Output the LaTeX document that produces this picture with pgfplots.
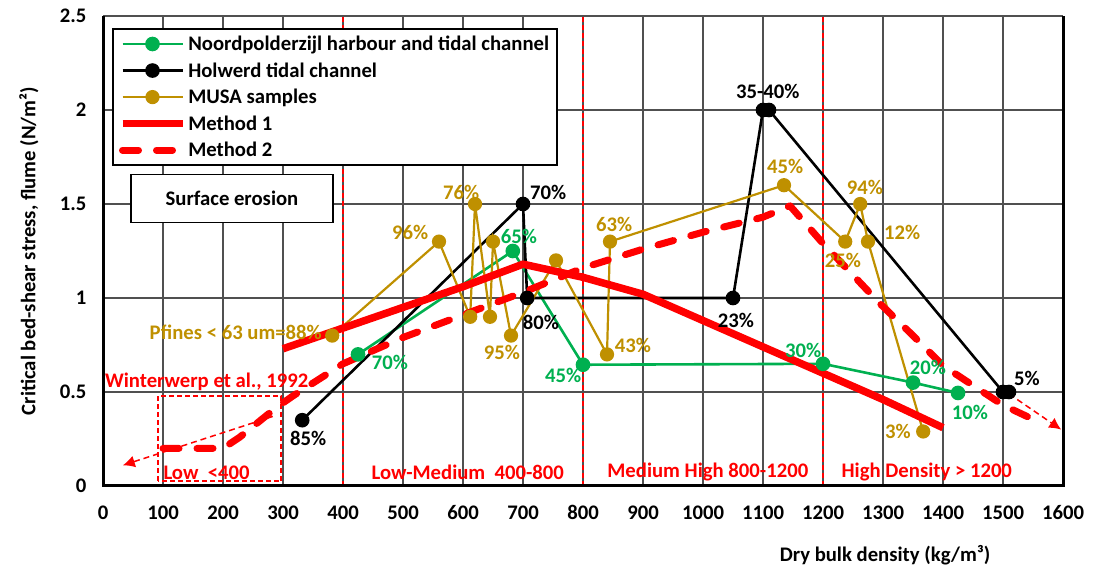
\documentclass[border=0pt]{standalone}
\usepackage{pgfplots}
\pgfplotsset{compat=1.18}
\usepackage{fontspec}
\setmainfont{Carlito}
\usetikzlibrary{arrows.meta}
\definecolor{cgreen}{HTML}{00B050}
\definecolor{cgold}{HTML}{BF9000}
\definecolor{cred}{HTML}{FF0000}
\definecolor{cgrid}{HTML}{505050}
\newcommand{\lf}{\fontsize{20.7}{24}\selectfont\bfseries}
\begin{document}
\begin{tikzpicture}
\path[use as bounding box] (0,0) rectangle (1097pt,569pt);
\begin{axis}[
  at={(103pt,83pt)}, anchor=south west,
  scale only axis, width=960pt, height=470pt,
  xmin=0, xmax=1600, ymin=0, ymax=2.5,
  xtick={0,100,...,1600}, ytick={0,0.5,1,1.5,2,2.5},
  grid=major, major grid style={cgrid, line width=1.2pt},
  major tick length=0pt,
  axis line style={draw=none},
  clip=false,
  scaled ticks=false,
  /pgf/number format/1000 sep={},
  /pgf/number format/assume math mode=true,
  tick label style={font=\lf},
  xticklabel style={yshift=-16pt},
  yticklabel style={xshift=-13pt},
  every axis y label/.style={at={(axis description cs:-0.0771,0.5)}, rotate=90, anchor=center, font=\lf},
  every axis x label/.style={at={(axis description cs:0.8146,-0.1468)}, anchor=center, font=\lf},
  ylabel={Critical bed-shear stress, flume (N/m²)},
  xlabel={Dry bulk density (kg/m³)},
  legend cell align=left,
  legend style={at={(axis cs:15,2.435)}, anchor=north west, draw=black, line width=1.5pt,
    font=\lf, row sep=6.5pt, inner xsep=6pt, inner ysep=5pt, fill=white},
  legend image code/.code={\draw[mark repeat=2,mark phase=2,#1] plot coordinates {(0pt,0pt) (30pt,0pt) (60pt,0pt)};},
]
% vertical zone separators
\draw[cred, line width=1.6pt, dash pattern=on 5pt off 3pt] (axis cs:400,0) -- (axis cs:400,2.5);
\draw[cred, line width=1.6pt, dash pattern=on 5pt off 3pt] (axis cs:800,0) -- (axis cs:800,2.5);
\draw[cred, line width=1.6pt, dash pattern=on 5pt off 3pt] (axis cs:1200,0) -- (axis cs:1200,2.5);

\addplot[cgreen, line width=2.6pt, mark=*, mark size=6pt, mark options={solid, fill=cgreen, draw=cgreen}]
  coordinates {(425,0.70) (683,1.25) (800,0.645) (1200,0.65) (1350,0.55) (1425,0.495)};
\addlegendentry{Noordpolderzijl harbour and tidal channel}
\addplot[black, line width=2.6pt, mark=*, mark size=6pt, mark options={solid, fill=black}]
  coordinates {(332,0.35) (700,1.5) (707,1.0) (1050,1.0) (1100,2.0) (1110,2.0) (1500,0.5) (1510,0.5)};
\addlegendentry{Holwerd tidal channel}
\addplot[cgold, line width=2.2pt, mark=*, mark size=6pt, mark options={solid, fill=cgold, draw=cgold}]
  coordinates {(382,0.80) (560,1.30) (612,0.90) (620,1.50) (645,0.90) (650,1.30) (680,0.80) (755,1.20) (840,0.70) (845,1.30) (1135,1.60) (1237,1.30) (1262,1.50) (1275,1.30) (1367,0.29)};
\addlegendentry{MUSA samples}
\addplot[cred, line width=7.5pt, line join=round]
  coordinates {(300,0.73) (400,0.84) (500,0.95) (600,1.06) (700,1.18) (800,1.11) (900,1.02) (1000,0.88) (1100,0.74) (1200,0.60) (1300,0.46) (1400,0.31)};
\addlegendentry{Method 1}
\addplot[cred, line width=7pt, line cap=round, line join=round, dash pattern=on 16pt off 18pt]
  coordinates {(100,0.2) (200,0.2) (228,0.26) (290,0.42) (317,0.48) (400,0.65) (500,0.79) (600,0.91) (700,1.03) (800,1.16) (900,1.26) (1000,1.35) (1100,1.43) (1145,1.49) (1200,1.29) (1295,0.97) (1350,0.80) (1400,0.64) (1500,0.43) (1560,0.34)};
\addlegendentry{Method 2}

% thin arrows
\draw[cred, line width=1.5pt, dash pattern=on 6pt off 4pt, -{Latex[length=12pt,width=12pt]}] (axis cs:283,0.37) -- (axis cs:33,0.11);
\draw[cred, line width=1.5pt, dash pattern=on 6pt off 4pt, -{Latex[length=12pt,width=12pt]}] (axis cs:1510,0.49) -- (axis cs:1597,0.30);
% Winterwerp box
\draw[cred, line width=1.5pt, dash pattern=on 5pt off 3pt] (axis cs:92,0.027) rectangle (axis cs:297,0.48);

% axis frame
\draw[black, line width=3pt] (rel axis cs:0,1) -- (rel axis cs:0,0) -- (rel axis cs:1,0) -- (rel axis cs:1,1);

% Surface erosion box
\node[draw=black, line width=1.5pt, fill=white, minimum width=202pt, minimum height=48pt, font=\lf] at (axis cs:215,1.53) {Surface erosion};

% zone labels
\node[cred, font=\lf, anchor=west] at (axis cs:95,0.07) {Low\ \ <400};
\node[cred, font=\lf] at (axis cs:608,0.075) {Low-Medium\ \ 400-800};
\node[cred, font=\lf] at (axis cs:1008,0.075) {Medium High 800-1200};
\node[cred, font=\lf] at (axis cs:1373,0.075) {High Density > 1200};
\node[cred, font=\lf] at (axis cs:173,0.553) {Winterwerp et al., 1992};

% green labels
\node[cgreen, font=\lf] at (axis cs:478,0.655) {70\%};
\node[cgreen, font=\lf] at (axis cs:693,1.325) {65\%};
\node[cgreen, font=\lf] at (axis cs:767,0.59) {45\%};
\node[cgreen, font=\lf] at (axis cs:1167,0.72) {30\%};
\node[cgreen, font=\lf] at (axis cs:1375,0.63) {20\%};
\node[cgreen, font=\lf] at (axis cs:1445,0.39) {10\%};
% black labels
\node[black, font=\lf] at (axis cs:342,0.255) {85\%};
\node[black, font=\lf] at (axis cs:742,1.56) {70\%};
\node[black, font=\lf] at (axis cs:730,0.87) {80\%};
\node[black, font=\lf] at (axis cs:1055,0.88) {23\%};
\node[black, font=\lf] at (axis cs:1108,2.10) {35-40\%};
\node[black, font=\lf] at (axis cs:1540,0.57) {5\%};
% gold labels
\node[cgold, font=\lf, anchor=east, inner sep=0pt] at (axis cs:365,0.82) {Pfines < 63 um=88\%};
\node[cgold, font=\lf] at (axis cs:512,1.35) {96\%};
\node[cgold, font=\lf] at (axis cs:597,1.56) {76\%};
\node[cgold, font=\lf] at (axis cs:665,0.71) {95\%};
\node[cgold, font=\lf] at (axis cs:883,0.75) {43\%};
\node[cgold, font=\lf] at (axis cs:852,1.39) {63\%};
\node[cgold, font=\lf] at (axis cs:1137,1.70) {45\%};
\node[cgold, font=\lf] at (axis cs:1233,1.20) {25\%};
\node[cgold, font=\lf] at (axis cs:1270,1.59) {94\%};
\node[cgold, font=\lf] at (axis cs:1332,1.35) {12\%};
\node[cgold, font=\lf] at (axis cs:1325,0.29) {3\%};
\end{axis}
\end{tikzpicture}
\end{document}
